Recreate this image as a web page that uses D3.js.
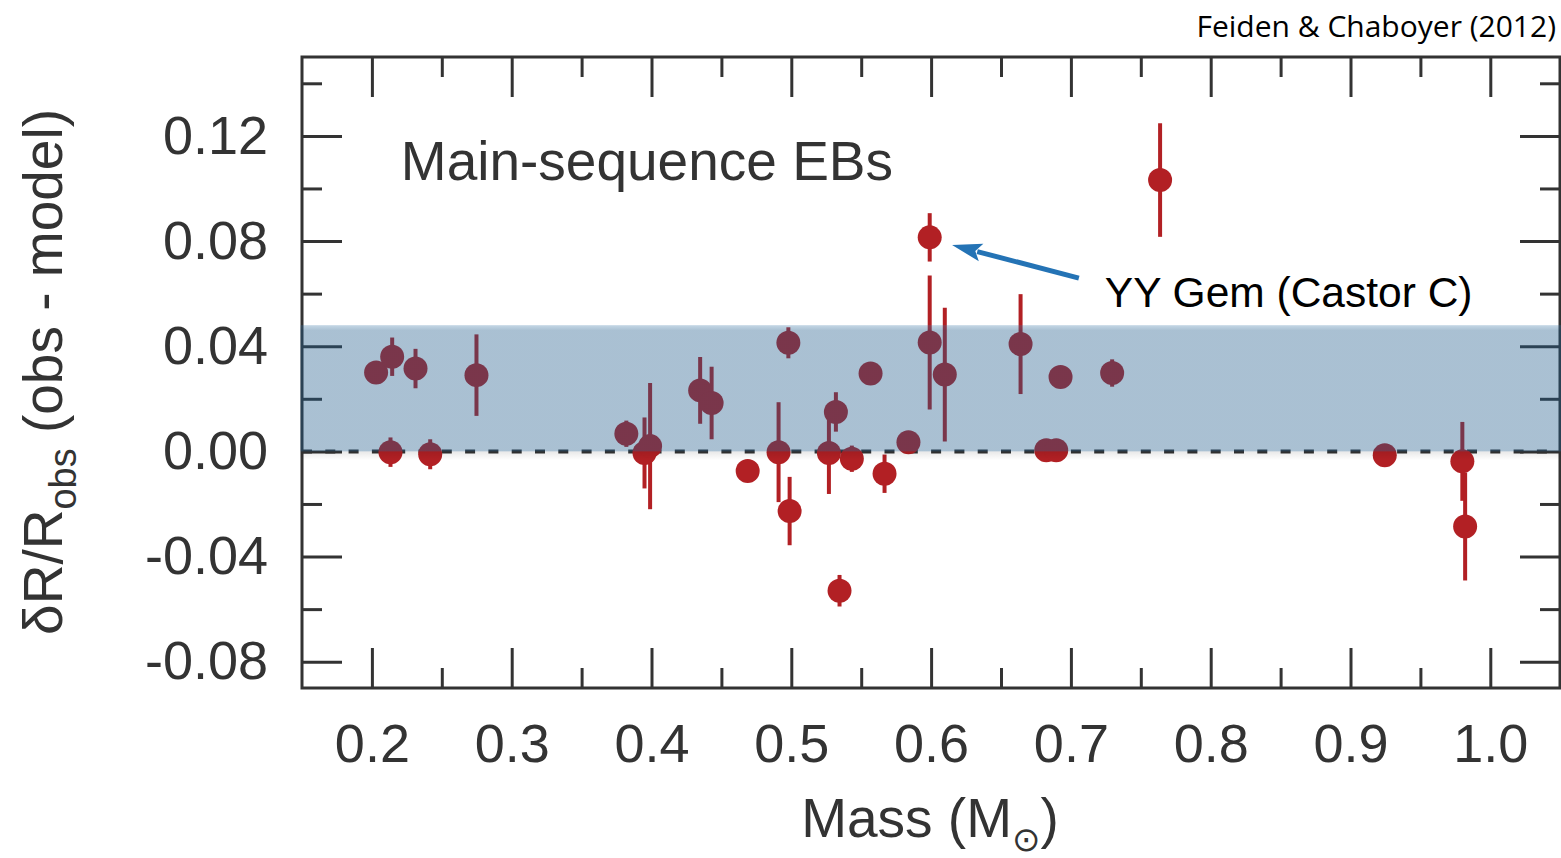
<!DOCTYPE html>
<html>
<head>
<meta charset="utf-8">
<script src="https://cdn.jsdelivr.net/npm/d3@7"></script>
<style>
  body { margin: 0; background: #fff; }
  svg text { font-family: "Liberation Sans", Arial, Helvetica, sans-serif; }
</style>
</head>
<body>
<svg id="chart"></svg>
<script>
// data: mass (Msun), dR/R and its 1-sigma error
const mass = [0.203, 0.2145, 0.2312, 0.2748, 0.2133, 0.2417, 0.382, 0.395, 0.399, 0.4348,
              0.443, 0.4688, 0.4909, 0.4988, 0.4979, 0.5269, 0.5319, 0.5345, 0.5433, 0.5567,
              0.5667, 0.5838, 0.599, 0.599, 0.6098, 0.664, 0.6824, 0.6895, 0.6926, 0.7295,
              0.7638, 0.9245, 0.980, 0.982];
const deltaR = [0.030, 0.036, 0.0315, 0.029, -0.0003, -0.0011, 0.0067, -0.0006, 0.002, 0.0232,
                0.0184, -0.0075, -0.0003, -0.0227, 0.0413, -0.0006, 0.015, -0.053, -0.0028, 0.0296,
                -0.0085, 0.0035, 0.0814, 0.0414, 0.0292, 0.0408, 0.0004, 0.0004, 0.0283, 0.0298,
                0.1032, -0.0015, -0.0038, -0.0286];
const deltaRErr = [0.004, 0.0073, 0.0075, 0.0155, 0.0056, 0.0057, 0.005, 0.0135, 0.024, 0.0127,
                   0.0138, 0.003, 0.019, 0.013, 0.0059, 0.0156, 0.0075, 0.006, 0.005, 0.003,
                   0.0073, 0.003, 0.0092, 0.0255, 0.0254, 0.019, 0.003, 0.003, 0.003, 0.0052,
                   0.0216, 0.003, 0.015, 0.0205];

const xTicks = [0.2, 0.3, 0.4, 0.5, 0.6, 0.7, 0.8, 0.9, 1.0];
const xTickLabels = ["0.2", "0.3", "0.4", "0.5", "0.6", "0.7", "0.8", "0.9", "1.0"];
const xMinorTicks = [0.25, 0.35, 0.45, 0.55, 0.65, 0.75, 0.85, 0.95];
const yTicks = [-0.08, -0.04, 0, 0.04, 0.08, 0.12];
const yTickLabels = ["-0.08", "-0.04", "0.00", "0.04", "0.08", "0.12"];
const yMinorTicks = [-0.06, -0.02, 0.02, 0.06, 0.10, 0.14];

const bandRange = [0, 0.048];   // shaded region
const annotation = { label: "YY Gem (Castor C)", tip: [0.615, 0.0785], tail: [0.7057, 0.0659], text: [0.7243, 0.0549] };

const W = 1561, H = 858;
const plot = { left: 302, right: 1560, top: 57, bottom: 688 };
const red = "#b22024", ink = "#333";

const svg = d3.select("#chart").attr("width", W).attr("height", H);

const x = d3.scaleLinear().domain([0.15, 1.05]).range([plot.left, plot.left + 0.9 * 1398]);
const y = d3.scaleLinear().domain([-0.09, 0.15]).range([plot.bottom, plot.top]);

const defs = svg.append("defs");
const shade = defs.append("linearGradient").attr("id", "shadow").attr("x1", 0).attr("x2", 0).attr("y1", 0).attr("y2", 1);
shade.append("stop").attr("offset", "0%").attr("stop-color", "#000").attr("stop-opacity", 0.09);
shade.append("stop").attr("offset", "100%").attr("stop-color", "#000").attr("stop-opacity", 0);
const bandGrad = defs.append("linearGradient").attr("id", "bandgrad").attr("x1", 0).attr("x2", 0).attr("y1", 0).attr("y2", 1);
bandGrad.append("stop").attr("offset", "0%").attr("stop-color", "#3a78a8").attr("stop-opacity", 0.3);
bandGrad.append("stop").attr("offset", "4%").attr("stop-color", "#1e5a8a").attr("stop-opacity", 0.38);
bandGrad.append("stop").attr("offset", "100%").attr("stop-color", "#1e5a8a").attr("stop-opacity", 0.38);

const points = mass.map((m, i) => ({ m, d: deltaR[i], e: deltaRErr[i] }));

// zero line
svg.append("line")
    .attr("x1", plot.left).attr("x2", plot.right)
    .attr("y1", y(0)).attr("y2", y(0))
    .attr("stroke", ink).attr("stroke-width", 4)
    .attr("stroke-dasharray", "10,13.3");

// error bars + points
svg.append("g").selectAll("line")
    .data(points)
    .join("line")
    .attr("x1", d => x(d.m)).attr("x2", d => x(d.m))
    .attr("y1", d => y(d.d + d.e)).attr("y2", d => y(d.d - d.e))
    .attr("stroke", red).attr("stroke-width", 4);

svg.append("g").selectAll("circle")
    .data(points)
    .join("circle")
    .attr("cx", d => x(d.m)).attr("cy", d => y(d.d))
    .attr("r", 12)
    .attr("fill", red);

// frame and inward ticks
svg.append("rect")
    .attr("x", plot.left).attr("y", plot.top)
    .attr("width", plot.right - plot.left).attr("height", plot.bottom - plot.top)
    .attr("fill", "none").attr("stroke", ink).attr("stroke-width", 3);

function styleAxis(g) {
    g.select(".domain").remove();
    g.attr("font-family", null).attr("font-size", null);
    g.selectAll("line").attr("stroke", ink).attr("stroke-width", 3);
    g.selectAll("text").attr("fill", ink).attr("font-size", 54);
}

svg.append("g").attr("transform", `translate(0,${plot.bottom})`)
    .call(d3.axisBottom(x).tickValues(xTicks).tickFormat((d, i) => xTickLabels[i])
        .tickSizeInner(-40).tickSizeOuter(0).tickPadding(36))
    .call(styleAxis);
svg.append("g").attr("transform", `translate(0,${plot.bottom})`)
    .call(d3.axisBottom(x).tickValues(xMinorTicks).tickFormat("").tickSize(-20))
    .call(styleAxis);
svg.append("g").attr("transform", `translate(0,${plot.top})`)
    .call(d3.axisTop(x).tickValues(xTicks).tickFormat("").tickSize(-40))
    .call(styleAxis);
svg.append("g").attr("transform", `translate(0,${plot.top})`)
    .call(d3.axisTop(x).tickValues(xMinorTicks).tickFormat("").tickSize(-20))
    .call(styleAxis);

svg.append("g").attr("transform", `translate(${plot.left},0)`)
    .call(d3.axisLeft(y).tickValues(yTicks).tickFormat((d, i) => yTickLabels[i])
        .tickSizeInner(-40).tickSizeOuter(0).tickPadding(34))
    .call(styleAxis);
svg.append("g").attr("transform", `translate(${plot.left},0)`)
    .call(d3.axisLeft(y).tickValues(yMinorTicks.filter(v => v < 0.15)).tickFormat("").tickSize(-20))
    .call(styleAxis);
svg.append("g").attr("transform", `translate(${plot.right},0)`)
    .call(d3.axisRight(y).tickValues(yTicks).tickFormat("").tickSize(-40))
    .call(styleAxis);
svg.append("g").attr("transform", `translate(${plot.right},0)`)
    .call(d3.axisRight(y).tickValues(yMinorTicks.filter(v => v < 0.15)).tickFormat("").tickSize(-20))
    .call(styleAxis);

// translucent band on top of everything in the plot
svg.append("rect")
    .attr("x", plot.left - 1.5).attr("y", y(0))
    .attr("width", W - plot.left + 1.5).attr("height", 9)
    .attr("fill", "url(#shadow)");
svg.append("rect")
    .attr("x", plot.left - 1.5).attr("y", y(bandRange[1]))
    .attr("width", W - plot.left + 1.5).attr("height", y(bandRange[0]) - y(bandRange[1]))
    .attr("fill", "url(#bandgrad)");

// annotation arrow
const tip = [x(annotation.tip[0]), y(annotation.tip[1])];
const tail = [x(annotation.tail[0]), y(annotation.tail[1])];
const len = Math.hypot(tip[0] - tail[0], tip[1] - tail[1]);
const u = [(tip[0] - tail[0]) / len, (tip[1] - tail[1]) / len];
const headLen = 30, headHalf = 9;
const base = [tip[0] - u[0] * headLen, tip[1] - u[1] * headLen];
svg.append("line")
    .attr("x1", tail[0]).attr("y1", tail[1])
    .attr("x2", base[0] + u[0] * 4).attr("y2", base[1] + u[1] * 4)
    .attr("stroke", "#2473b5").attr("stroke-width", 5);
svg.append("path")
    .attr("d", `M${tip[0]},${tip[1]}L${base[0] - u[1] * headHalf},${base[1] + u[0] * headHalf}` +
        `L${base[0] + u[0] * 6},${base[1] + u[1] * 6}L${base[0] + u[1] * headHalf},${base[1] - u[0] * headHalf}Z`)
    .attr("fill", "#2473b5");

svg.append("text")
    .attr("x", x(annotation.text[0])).attr("y", y(annotation.text[1]))
    .attr("font-size", 42.5).attr("fill", "#000")
    .text(annotation.label);

svg.append("text")
    .attr("x", x(0.2207)).attr("y", y(0.1032))
    .attr("font-size", 55).attr("fill", ink)
    .text("Main-sequence EBs");

// axis titles
const yLab = svg.append("text")
    .attr("transform", "translate(62,372) rotate(-90)")
    .attr("text-anchor", "middle")
    .attr("font-size", 55).attr("fill", ink);
yLab.append("tspan").text("δR/R");
yLab.append("tspan").attr("font-size", 38).attr("dy", 14).text("obs");
yLab.append("tspan").attr("dy", -14).text(" (obs - model)");

const xLab = svg.append("text")
    .attr("x", 930).attr("y", 837)
    .attr("text-anchor", "middle")
    .attr("font-size", 55).attr("fill", ink);
xLab.append("tspan").text("Mass (M");
xLab.append("tspan").attr("font-family", "DejaVu Sans").attr("font-size", 34).attr("dy", 14).text("⊙");
xLab.append("tspan").attr("dy", -14).text(")");

svg.append("text")
    .attr("x", 1556).attr("y", 37)
    .attr("text-anchor", "end")
    .style("font-family", "'Open Sans', 'Noto Sans', sans-serif")
    .attr("font-size", 30).attr("fill", "#000")
    .text("Feiden & Chaboyer (2012)");
</script>
</body>
</html>
